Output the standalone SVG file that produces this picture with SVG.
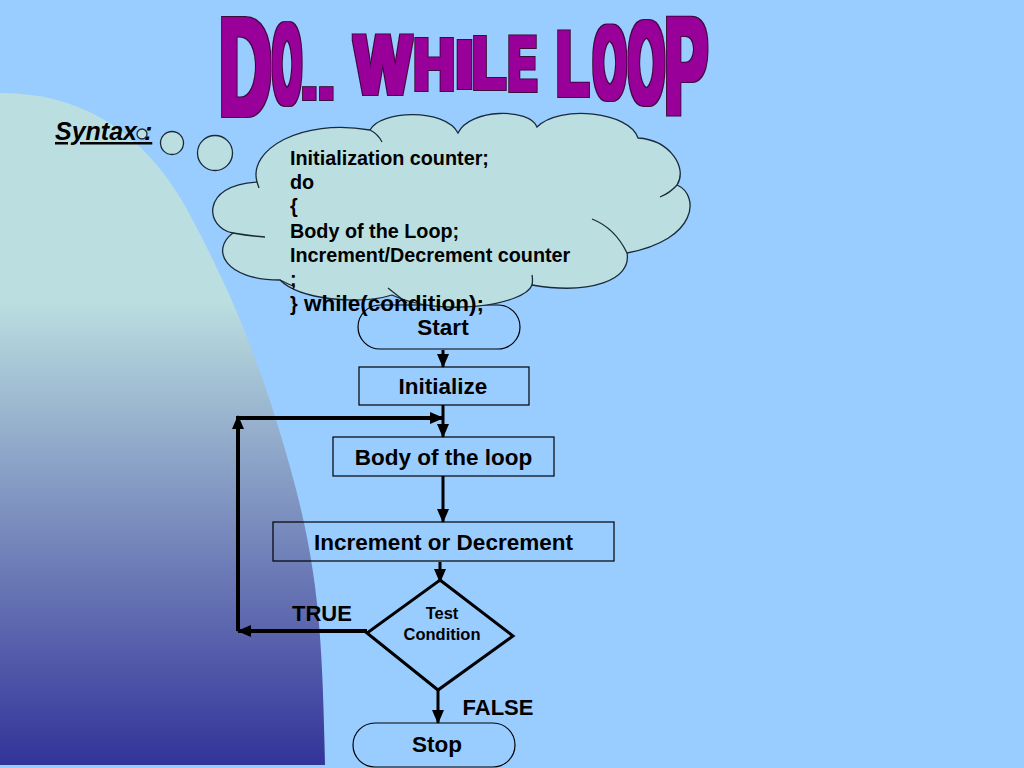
<svg xmlns="http://www.w3.org/2000/svg" width="1024" height="768" viewBox="0 0 1024 768">
<defs>
<linearGradient id="lg" gradientUnits="userSpaceOnUse" x1="0" y1="300" x2="0" y2="765">
<stop offset="0" stop-color="#bbdfe0"/>
<stop offset="1" stop-color="#333399"/>
</linearGradient>
<marker id="ah" markerUnits="userSpaceOnUse" markerWidth="14" markerHeight="12" viewBox="0 0 14 12" refX="13" refY="6" orient="auto">
<path d="M0,0 L14,6 L0,12 Z" fill="#000"/>
</marker>
<filter id="fat" x="-5%" y="-10%" width="110%" height="120%">
<feMorphology in="SourceAlpha" operator="dilate" radius="2.6" result="big"/>
<feFlood flood-color="#3a0a3a"/>
<feComposite in2="big" operator="in" result="outline"/>
<feMorphology in="SourceGraphic" operator="dilate" radius="1.5" result="fill"/>
<feMerge><feMergeNode in="outline"/><feMergeNode in="fill"/></feMerge>
</filter>
<style>
.lbl{font-family:"Liberation Sans",Arial,sans-serif;font-weight:bold;fill:#000;text-anchor:middle}
.box{fill:none;stroke:#000;stroke-width:1.2}
.cl{fill:#bbdfe0;stroke:#1a2a3a;stroke-width:1.3}
.cin{fill:none;stroke:#1a2a3a;stroke-width:1.3}
.con{fill:none;stroke:#000;stroke-width:3}
.loop{fill:none;stroke:#000;stroke-width:4}
.tt{font-family:"Liberation Sans",Arial,sans-serif;font-weight:bold;fill:#990099}
.code{font-family:"Liberation Sans",Arial,sans-serif;font-weight:bold;fill:#000;font-size:19.8px}
</style>
</defs>
<rect width="1024" height="768" fill="#99ccff"/>
<path d="M0,93 C90,93 150,140 190,215 S260,360 290,467 S322,640 325,765 L0,765 Z" fill="url(#lg)"/>

<g id="title" filter="url(#fat)">
<text class="tt"><tspan x="219.3" y="114.5" font-size="139.7" textLength="52.4" lengthAdjust="spacingAndGlyphs">D</tspan><tspan x="272.9" y="103.1" font-size="113.5" textLength="28.1" lengthAdjust="spacingAndGlyphs">O</tspan><tspan x="300.9" y="97.5" font-size="60">.</tspan><tspan x="317.9" y="97.5" font-size="60">.</tspan><tspan font-size="20"> </tspan><tspan x="354.5" y="92.5" font-size="81" textLength="56.6" lengthAdjust="spacingAndGlyphs">W</tspan><tspan x="413.4" y="88.5" font-size="71.2" textLength="41.25" lengthAdjust="spacingAndGlyphs">H</tspan><tspan x="455.2" y="86.5" font-size="65.6" textLength="18.5" lengthAdjust="spacingAndGlyphs">I</tspan><tspan x="472.55" y="87.5" font-size="72.6" textLength="32.9" lengthAdjust="spacingAndGlyphs">L</tspan><tspan x="508.45" y="89.5" font-size="76.8" textLength="27.7" lengthAdjust="spacingAndGlyphs">E</tspan><tspan font-size="20"> </tspan><tspan x="556.7" y="94.5" font-size="90.8" textLength="31.8" lengthAdjust="spacingAndGlyphs">L</tspan><tspan x="593.6" y="98.3" font-size="101.4" textLength="32.6" lengthAdjust="spacingAndGlyphs">O</tspan><tspan x="628.45" y="103.1" font-size="114.9" textLength="36" lengthAdjust="spacingAndGlyphs">O</tspan><tspan x="664.8" y="112.5" font-size="136.9" textLength="42.9" lengthAdjust="spacingAndGlyphs">P</tspan></text>
</g>

<g id="syntax">
<text x="55" y="140" font-family="Liberation Sans, Arial, sans-serif" font-weight="bold" font-style="italic" font-size="25" fill="#000" text-decoration="underline">Syntax :</text>
</g>

<g id="start">
<rect class="box" x="358" y="305" width="162" height="44" rx="22"/>
<text class="lbl" x="443" y="335" font-size="22.5">Start</text>
</g>

<g id="callout">
<circle class="cl" cx="142" cy="134" r="5"/>
<circle class="cl" cx="172" cy="143" r="11.5"/>
<circle class="cl" cx="215" cy="153" r="17.5"/>
<path class="cl" d="M257,182 C248,150 300,118 370,130 C380,110 445,108 458,133 C470,108 530,108 537,127 C560,104 630,112 638,138 C670,140 688,168 677,185 C700,195 698,240 627,253 C632,280 590,295 532,285 C525,305 440,318 392,295 C360,305 300,300 280,280 C225,280 210,250 233,233 C205,228 200,185 257,182 Z"/>
<path class="cin" d="M370,130 Q378,134 382,142 M677,185 Q670,193 660,197 M627,253 Q615,228 592,219 M532,285 Q533,280 532,275 M388,288 Q398,296 407,303 M280,280 Q288,284 295,287 M233,233 Q250,236 265,237 M257,182 Q258,185 259,188"/>
<text class="code" x="290" y="165">Initialization counter;</text>
<text class="code" x="290" y="189">do</text>
<text class="code" x="290" y="213">{</text>
<text class="code" x="290" y="238">Body of the Loop;</text>
<text class="code" x="290" y="262">Increment/Decrement counter</text>
<text class="code" x="290" y="286">;</text>
<text class="code" x="290" y="311">}<tspan font-size="22.5"> while(condition);</tspan></text>
</g>

<g id="initialize">
<rect class="box" x="359" y="367" width="170" height="38"/>
<text class="lbl" x="443" y="394" font-size="22.5">Initialize</text>
</g>

<g id="body">
<rect class="box" x="333" y="437" width="221" height="39"/>
<text class="lbl" x="443.5" y="465" font-size="22.5">Body of the loop</text>
</g>

<g id="increment">
<rect class="box" x="273" y="522" width="341" height="39"/>
<text class="lbl" x="443.5" y="550" font-size="22.5">Increment or Decrement</text>
</g>

<g id="test">
<path d="M440,580 L513,636 L438,690 L367,633 Z" fill="none" stroke="#000" stroke-width="3" stroke-linejoin="miter"/>
<text class="lbl" x="442" y="619" font-size="16.5">Test</text>
<text class="lbl" x="442" y="640" font-size="16.5">Condition</text>
</g>

<g id="stop">
<rect class="box" x="353" y="723" width="162" height="44" rx="22"/>
<text class="lbl" x="437" y="752" font-size="22.5">Stop</text>
</g>

<g id="connectors">
<line class="con" x1="443" y1="350" x2="443" y2="367" marker-end="url(#ah)"/>
<line class="con" x1="443" y1="405" x2="443" y2="437" marker-end="url(#ah)"/>
<line class="con" x1="443" y1="476" x2="443" y2="522" marker-end="url(#ah)"/>
<line class="con" x1="440" y1="562" x2="440" y2="582" marker-end="url(#ah)"/>
<line class="con" x1="438" y1="690" x2="438" y2="723" marker-end="url(#ah)"/>
<line class="loop" x1="367" y1="631" x2="238" y2="631" marker-end="url(#ah)"/>
<line class="loop" x1="238" y1="631" x2="238" y2="416" marker-end="url(#ah)"/>
<line class="loop" x1="238" y1="418" x2="443" y2="418" marker-end="url(#ah)"/>
<text class="lbl" x="322" y="621" font-size="22">TRUE</text>
<text class="lbl" x="498" y="715" font-size="22">FALSE</text>
</g>
</svg>
